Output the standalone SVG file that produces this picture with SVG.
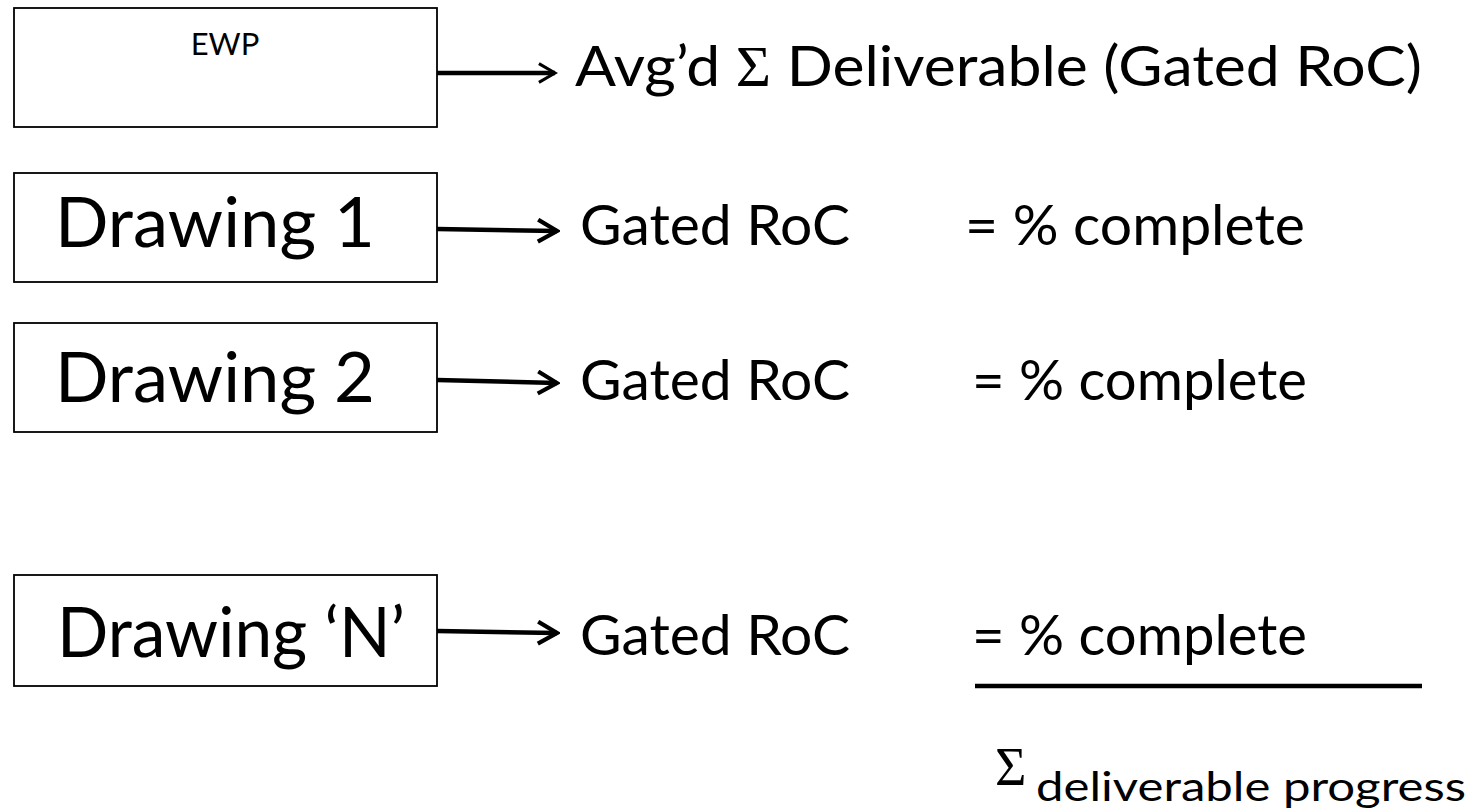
<svg xmlns="http://www.w3.org/2000/svg" width="1473" height="810" viewBox="0 0 1473 810">
<style>
.box{fill:#fff;stroke:#000;stroke-width:1.8}
.t{font-family:Lato,"Open Sans",sans-serif;fill:#000}
.big{font-size:69px}
.med{font-size:56px}
.conn{stroke:#000;stroke-width:4.5;fill:none}
.sig{font-family:"Liberation Serif",serif}
</style>
<defs>
<marker id="ah" viewBox="0 0 26 26" refX="23" refY="13" markerWidth="26" markerHeight="26" markerUnits="userSpaceOnUse" orient="auto">
<path d="M4,2 L23,13 L4,24" fill="none" stroke="#000" stroke-width="4.2"/>
</marker>
<marker id="ahs" viewBox="0 0 26 26" refX="23" refY="13" markerWidth="22" markerHeight="22" markerUnits="userSpaceOnUse" orient="auto">
<path d="M4,2 L23,13 L4,24" fill="none" stroke="#000" stroke-width="3.6"/>
</marker>
</defs>
<rect width="1473" height="810" fill="#fff"/>
<g id="ewp">
<rect class="box" x="14" y="8" width="423" height="119"/>
<text class="t" x="225" y="55" font-size="31" text-anchor="middle">EWP</text>
</g>
<g id="drawing1">
<rect class="box" x="14" y="173" width="423" height="109"/>
<text class="t big" x="55" y="247" textLength="320" lengthAdjust="spacingAndGlyphs">Drawing 1</text>
</g>
<g id="drawing2">
<rect class="box" x="14" y="323" width="423" height="109"/>
<text class="t big" x="55" y="402" textLength="320" lengthAdjust="spacingAndGlyphs">Drawing 2</text>
</g>
<g id="drawingN">
<rect class="box" x="14" y="575" width="423" height="111"/>
<text class="t big" x="57" y="657" textLength="348" lengthAdjust="spacingAndGlyphs">Drawing ‘N’</text>
</g>
<g id="connectors">
<line class="conn" x1="437" y1="73" x2="555" y2="73" stroke-width="3.2" marker-end="url(#ahs)"/>
<line class="conn" x1="437" y1="229" x2="557" y2="231" marker-end="url(#ah)"/>
<line class="conn" x1="437" y1="380" x2="557" y2="383" marker-end="url(#ah)"/>
<line class="conn" x1="437" y1="631" x2="557" y2="633" marker-end="url(#ah)"/>
</g>
<g id="labels">
<text class="t med" x="575" y="86" textLength="847" lengthAdjust="spacingAndGlyphs">Avg’d <tspan class="sig">Σ</tspan> Deliverable (Gated RoC)</text>
<text class="t med" x="580" y="245" textLength="270" lengthAdjust="spacingAndGlyphs">Gated RoC</text>
<text class="t med" x="580" y="400" textLength="270" lengthAdjust="spacingAndGlyphs">Gated RoC</text>
<text class="t med" x="580" y="655" textLength="270" lengthAdjust="spacingAndGlyphs">Gated RoC</text>
<text class="t med" x="965" y="245" textLength="340" lengthAdjust="spacingAndGlyphs">= % complete</text>
<text class="t med" x="972" y="400" textLength="335" lengthAdjust="spacingAndGlyphs">= % complete</text>
<text class="t med" x="972" y="655" textLength="335" lengthAdjust="spacingAndGlyphs">= % complete</text>
<line x1="975" y1="686" x2="1422" y2="686" stroke="#000" stroke-width="4.5"/>
<text class="sig" x="995" y="785" font-size="54">Σ</text>
<text class="t" x="1036" y="801" font-size="41" textLength="430" lengthAdjust="spacingAndGlyphs">deliverable progress</text>
</g>
</svg>
